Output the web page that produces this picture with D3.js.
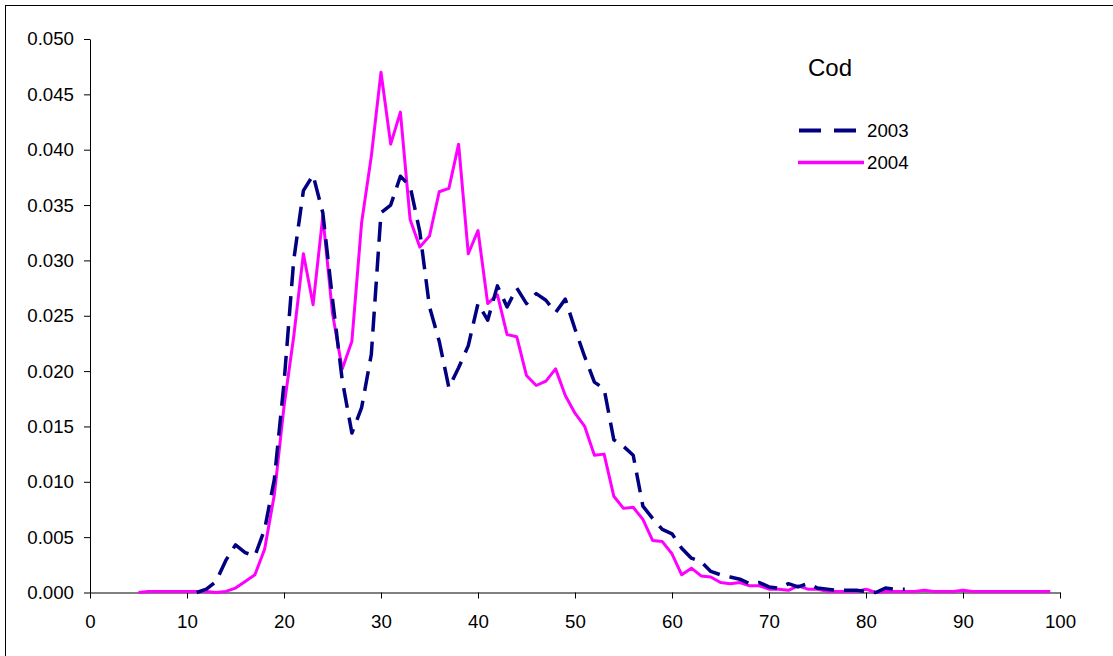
<!DOCTYPE html>
<html>
<head>
<meta charset="utf-8">
<script src="https://cdn.jsdelivr.net/npm/d3@7"></script>
<style>
  html, body { margin: 0; padding: 0; background: #fff; }
  svg { display: block; font-family: "Liberation Sans", Arial, sans-serif; }
</style>
</head>
<body>
<svg id="chart" width="1113" height="656"></svg>
<script>
// ---------- data ----------
const title = "Cod";
const seriesNames = ["2003", "2004"];
const xTicks = [0, 10, 20, 30, 40, 50, 60, 70, 80, 90, 100];
const yTicks = [0, 0.005, 0.010, 0.015, 0.020, 0.025, 0.030, 0.035, 0.040, 0.045, 0.050];

const lengths2003 = [11,12,13,14,15,16,17,18,19,20,21,22,23,24,25,26,27,28,29,30,
  31,32,33,34,35,36,37,38,39,40,41,42,43,44,45,46,47,48,49,50,
  51,52,53,54,55,56,57,58,59,60,61,62,63,64,65,66,67,68,69,70,
  71,72,73,74,75,76,77,78,79,80,81,82,83,84];
const values2003 = [0.0000,0.0003,0.0010,0.0029,0.0043,0.0036,0.0033,0.0057,0.0102,0.0189,
  0.0300,0.0363,0.0377,0.0343,0.0265,0.0192,0.0144,0.0167,0.0215,0.0343,
  0.0350,0.0376,0.0367,0.0326,0.0258,0.0227,0.0185,0.0203,0.0223,0.0261,
  0.0246,0.0277,0.0258,0.0275,0.0261,0.0270,0.0264,0.0253,0.0265,0.0238,
  0.0213,0.0190,0.0184,0.0138,0.0132,0.0124,0.0078,0.0067,0.0057,0.0053,
  0.0040,0.0031,0.0028,0.0019,0.0016,0.0014,0.0012,0.0008,0.0009,0.0005,
  0.0004,0.0008,0.0005,0.0008,0.0004,0.0003,0.0002,0.0002,0.0002,0.0001,
  0.0000,0.0004,0.0003,0.0003];

const lengths2004 = [5,6,7,8,9,10,11,12,13,14,15,16,17,18,19,20,
  21,22,23,24,25,26,27,28,29,30,31,32,33,34,35,36,37,38,39,40,
  41,42,43,44,45,46,47,48,49,50,51,52,53,54,55,56,57,58,59,60,
  61,62,63,64,65,66,67,68,69,70,71,72,73,74,75,76,77,78,79,80,
  81,82,83,84,85,86,87,88,89,90,91,92,93,94,95,96,97,98,99];
const values2004 = [0.0000,0.0001,0.0001,0.0001,0.0001,0.0001,0.0001,0.0001,0.0000,0.0001,
  0.0004,0.0010,0.0016,0.0039,0.0088,0.0168,0.0231,0.0306,0.0260,0.0340,
  0.0252,0.0202,0.0227,0.0334,0.0394,0.0470,0.0405,0.0434,0.0337,0.0312,
  0.0322,0.0362,0.0365,0.0405,0.0306,0.0327,0.0261,0.0269,0.0233,0.0231,
  0.0196,0.0187,0.0191,0.0202,0.0178,0.0162,0.0150,0.0124,0.0125,0.0087,
  0.0076,0.0077,0.0066,0.0047,0.0046,0.0035,0.0016,0.0022,0.0015,0.0014,
  0.0009,0.0008,0.0009,0.0006,0.0006,0.0003,0.0003,0.0002,0.0006,0.0003,
  0.0003,0.0001,0.0001,0.0001,0.0001,0.0003,0.0000,0.0001,0.0001,0.0001,
  0.0001,0.0002,0.0001,0.0001,0.0001,0.0002,0.0001,0.0001,0.0001,0.0001,
  0.0001,0.0001,0.0001,0.0001,0.0001];

// ---------- layout ----------
const svg = d3.select("#chart");
const plotLeft = 90, plotRight = 1060, plotTop = 39, plotBottom = 592.5;

svg.append("rect")
  .attr("x", 5.5).attr("y", 5.5)
  .attr("width", 1112).attr("height", 660)
  .attr("fill", "#fff").attr("stroke", "#000").attr("stroke-width", 1);

const x = d3.scaleLinear().domain([0, 100]).range([plotLeft, plotRight]);
const y = d3.scaleLinear().domain([0, 0.05]).range([plotBottom, plotTop]);

// axes
const xAxis = d3.axisBottom(x).tickValues(xTicks).tickSize(6).tickSizeOuter(0).tickPadding(4)
  .tickFormat(d3.format("d"));
const yAxis = d3.axisLeft(y).tickValues(yTicks).tickSize(6).tickSizeOuter(0).tickPadding(10)
  .tickFormat(d3.format(".3f"));

const gx = svg.append("g").attr("transform", `translate(0,${plotBottom})`).call(xAxis);
const gy = svg.append("g").attr("transform", `translate(${plotLeft},0)`).call(yAxis);
[gx, gy].forEach(g => {
  g.selectAll("path").attr("stroke", "#000").attr("stroke-width", 1);
  g.selectAll("line").attr("stroke", "#000").attr("stroke-width", 1);
  g.selectAll("text").attr("fill", "#000").attr("font-size", "18.7px")
    .attr("font-family", "'Liberation Sans', Arial, sans-serif");
});
gx.selectAll("text").attr("dy", "0.71em").attr("y", 22);

// lines
const line = d3.line().x(d => x(d[0])).y(d => y(d[1])).curve(d3.curveLinear);
const d2003 = lengths2003.map((l, i) => [l, values2003[i]]);
const d2004 = lengths2004.map((l, i) => [l, values2004[i]]);

svg.append("path").datum(d2004).attr("d", line)
  .attr("fill", "none").attr("stroke", "#FF00FF").attr("stroke-width", 3)
  .attr("stroke-linejoin", "round");

svg.append("path").datum(d2003).attr("d", line)
  .attr("fill", "none").attr("stroke", "#000080").attr("stroke-width", 3.5)
  .attr("stroke-dasharray", "20,10").attr("stroke-linejoin", "round");

// legend
svg.append("text").attr("x", 808).attr("y", 76).attr("font-size", "24px").attr("fill", "#000").text(title);

const lg = svg.append("g");
lg.append("line").attr("x1", 799).attr("x2", 862).attr("y1", 130.5).attr("y2", 130.5)
  .attr("stroke", "#000080").attr("stroke-width", 4).attr("stroke-dasharray", "22,13");
lg.append("text").attr("x", 867).attr("y", 137).attr("font-size", "18.7px").attr("fill", "#000").text(seriesNames[0]);
lg.append("line").attr("x1", 798).attr("x2", 864).attr("y1", 162.5).attr("y2", 162.5)
  .attr("stroke", "#FF00FF").attr("stroke-width", 3.3);
lg.append("text").attr("x", 867).attr("y", 169).attr("font-size", "18.7px").attr("fill", "#000").text(seriesNames[1]);
</script>
</body>
</html>
